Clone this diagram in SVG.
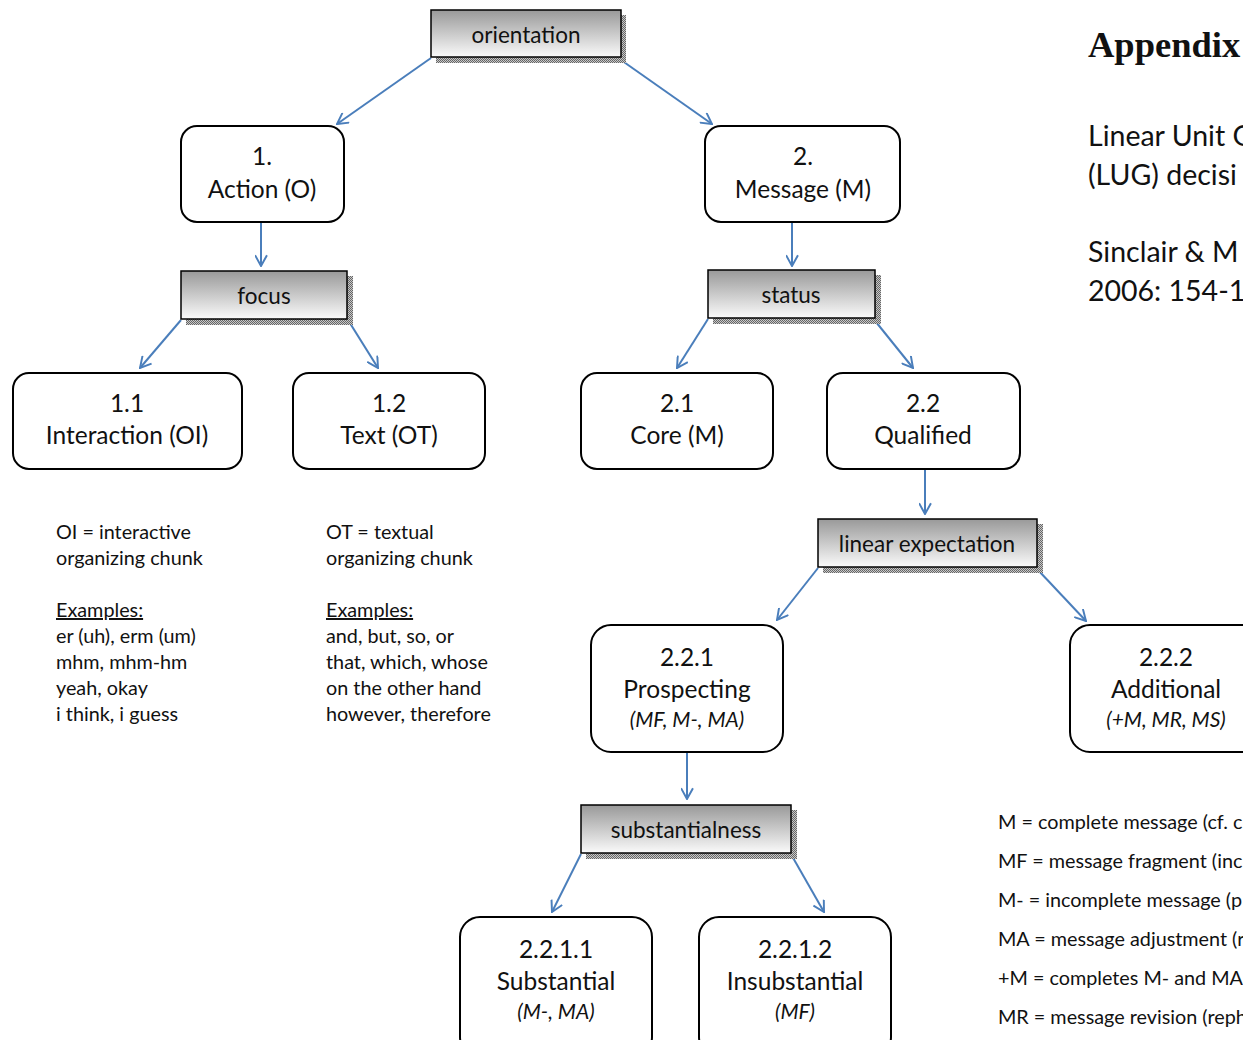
<svg xmlns="http://www.w3.org/2000/svg" width="1243" height="1040" viewBox="0 0 1243 1040">
  <style>
    .txt { font-family: Lato, "Open Sans", "Liberation Sans", sans-serif; fill: #111; }
    .lbl { font-size: 24.5px; text-anchor: middle; }
    .hlbl { font-size: 22.5px; text-anchor: middle; }
    .sub { font-size: 21px; font-style: italic; text-anchor: middle; }
    .note { font-size: 19.8px; }
    .leg { font-size: 19.8px; }
    .side { font-size: 28.5px; }
    .box { fill: #fff; stroke: #000; stroke-width: 2; }
    .hdr { fill: url(#hdrGrad); stroke: #000; stroke-width: 1.5; }
    .shadow { fill: url(#dither); }
    .conn { stroke: #4a7ebb; stroke-width: 2; fill: none; marker-end: url(#vhead); }
  </style>
  <defs>
    <linearGradient id="hdrGrad" x1="0" y1="0" x2="0" y2="1">
      <stop offset="0" stop-color="#999"/>
      <stop offset="1" stop-color="#fafafa"/>
    </linearGradient>
    <pattern id="dither" width="2" height="2" patternUnits="userSpaceOnUse">
      <rect width="2" height="2" fill="#c8c8c8"/>
      <rect width="1" height="1" fill="#666"/>
      <rect x="1" y="1" width="1" height="1" fill="#666"/>
    </pattern>
    <marker id="vhead" viewBox="0 0 12 12" refX="11" refY="6" markerWidth="13" markerHeight="13" markerUnits="userSpaceOnUse" orient="auto">
      <path d="M1,0.5 L11,6 L1,11.5" fill="none" stroke="#4a7ebb" stroke-width="1.8"/>
    </marker>
  </defs>

  <!-- connectors -->
  <g id="connectors">
    <line class="conn" x1="431" y1="58" x2="337" y2="124"/>
    <line class="conn" x1="621" y1="60" x2="712" y2="124"/>
    <line class="conn" x1="261" y1="222" x2="261" y2="266"/>
    <line class="conn" x1="792" y1="222" x2="792" y2="266"/>
    <line class="conn" x1="181" y1="320" x2="140" y2="368"/>
    <line class="conn" x1="348" y1="320" x2="378" y2="368"/>
    <line class="conn" x1="708" y1="319" x2="677" y2="368"/>
    <line class="conn" x1="876" y1="322" x2="913" y2="368"/>
    <line class="conn" x1="925" y1="469" x2="925" y2="514"/>
    <line class="conn" x1="818" y1="568" x2="777" y2="620"/>
    <line class="conn" x1="1038" y1="570" x2="1086" y2="621"/>
    <line class="conn" x1="687" y1="752" x2="687" y2="799"/>
    <line class="conn" x1="581" y1="854" x2="552" y2="912"/>
    <line class="conn" x1="792" y1="856" x2="824" y2="912"/>
  </g>

  <!-- header boxes -->
  <g id="orientation">
    <rect class="shadow" x="436" y="15" width="190" height="48"/>
    <rect class="hdr" x="431" y="10" width="190" height="47"/>
    <text class="txt hlbl" x="526" y="43">orientation</text>
  </g>
  <g id="focus">
    <rect class="shadow" x="186" y="276" width="167" height="49"/>
    <rect class="hdr" x="181" y="271" width="166" height="48"/>
    <text class="txt hlbl" x="264" y="304">focus</text>
  </g>
  <g id="status">
    <rect class="shadow" x="713" y="275" width="168" height="49"/>
    <rect class="hdr" x="708" y="270" width="167" height="48"/>
    <text class="txt hlbl" x="791" y="303">status</text>
  </g>
  <g id="linear-expectation">
    <rect class="shadow" x="823" y="524" width="220" height="49"/>
    <rect class="hdr" x="818" y="519" width="219" height="48"/>
    <text class="txt hlbl" x="927" y="552">linear expectation</text>
  </g>
  <g id="substantialness">
    <rect class="shadow" x="586" y="810" width="211" height="49"/>
    <rect class="hdr" x="581" y="805" width="210" height="48"/>
    <text class="txt hlbl" x="686" y="838">substantialness</text>
  </g>

  <!-- category boxes -->
  <g id="n1-action">
    <rect class="box" x="181" y="126" width="163" height="96" rx="16"/>
    <text class="txt lbl" x="262" y="165">1.</text>
    <text class="txt lbl" x="262" y="198">Action (O)</text>
  </g>
  <g id="n2-message">
    <rect class="box" x="705" y="126" width="195" height="96" rx="16"/>
    <text class="txt lbl" x="803" y="165">2.</text>
    <text class="txt lbl" x="803" y="198">Message (M)</text>
  </g>
  <g id="n11-interaction">
    <rect class="box" x="13" y="373" width="229" height="96" rx="16"/>
    <text class="txt lbl" x="127" y="412">1.1</text>
    <text class="txt lbl" x="127" y="444">Interaction (OI)</text>
  </g>
  <g id="n12-text">
    <rect class="box" x="293" y="373" width="192" height="96" rx="16"/>
    <text class="txt lbl" x="389" y="412">1.2</text>
    <text class="txt lbl" x="389" y="444">Text (OT)</text>
  </g>
  <g id="n21-core">
    <rect class="box" x="581" y="373" width="192" height="96" rx="16"/>
    <text class="txt lbl" x="677" y="412">2.1</text>
    <text class="txt lbl" x="677" y="444">Core (M)</text>
  </g>
  <g id="n22-qualified">
    <rect class="box" x="827" y="373" width="193" height="96" rx="16"/>
    <text class="txt lbl" x="923" y="412">2.2</text>
    <text class="txt lbl" x="923" y="444">Qualified</text>
  </g>
  <g id="n221-prospecting">
    <rect class="box" x="591" y="625" width="192" height="127" rx="20"/>
    <text class="txt lbl" x="687" y="666">2.2.1</text>
    <text class="txt lbl" x="687" y="698">Prospecting</text>
    <text class="txt sub" x="687" y="727">(MF, M-, MA)</text>
  </g>
  <g id="n222-additional">
    <rect class="box" x="1070" y="625" width="192" height="127" rx="20"/>
    <text class="txt lbl" x="1166" y="666">2.2.2</text>
    <text class="txt lbl" x="1166" y="698">Additional</text>
    <text class="txt sub" x="1166" y="727">(+M, MR, MS)</text>
  </g>
  <g id="n2211-substantial">
    <rect class="box" x="460" y="917" width="192" height="140" rx="20"/>
    <text class="txt lbl" x="556" y="958">2.2.1.1</text>
    <text class="txt lbl" x="556" y="990">Substantial</text>
    <text class="txt sub" x="556" y="1019">(M-, MA)</text>
  </g>
  <g id="n2212-insubstantial">
    <rect class="box" x="699" y="917" width="192" height="140" rx="20"/>
    <text class="txt lbl" x="795" y="958">2.2.1.2</text>
    <text class="txt lbl" x="795" y="990">Insubstantial</text>
    <text class="txt sub" x="795" y="1019">(MF)</text>
  </g>

  <!-- notes under the Action branch -->
  <g id="notes-oi" class="txt note">
    <text x="56" y="539">OI = interactive</text>
    <text x="56" y="565">organizing chunk</text>
    <text x="56" y="617" text-decoration="underline">Examples:</text>
    <text x="56" y="643">er (uh), erm (um)</text>
    <text x="56" y="669">mhm, mhm-hm</text>
    <text x="56" y="695">yeah, okay</text>
    <text x="56" y="721">i think, i guess</text>
  </g>
  <g id="notes-ot" class="txt note">
    <text x="326" y="539">OT = textual</text>
    <text x="326" y="565">organizing chunk</text>
    <text x="326" y="617" text-decoration="underline">Examples:</text>
    <text x="326" y="643">and, but, so, or</text>
    <text x="326" y="669">that, which, whose</text>
    <text x="326" y="695">on the other hand</text>
    <text x="326" y="721">however, therefore</text>
  </g>

  <!-- abbreviation legend -->
  <g id="legend" class="txt leg">
    <text x="998" y="829">M = complete message (cf. c</text>
    <text x="998" y="868">MF = message fragment (inc</text>
    <text x="998" y="907">M- = incomplete message (p</text>
    <text x="998" y="946">MA = message adjustment (r</text>
    <text x="998" y="985">+M = completes M- and MA</text>
    <text x="998" y="1024">MR = message revision (reph</text>
  </g>

  <!-- side heading -->
  <g id="heading">
    <text x="1088" y="57" style="font-family: 'Liberation Serif', 'Times New Roman', serif; font-weight: bold; font-size: 36.5px; fill: #111;">Appendix</text>
    <text class="txt side" x="1088" y="146">Linear Unit G</text>
    <text class="txt side" x="1088" y="185">(LUG) decisi</text>
    <text class="txt side" x="1088" y="262">Sinclair &amp; M</text>
    <text class="txt side" x="1088" y="301">2006: 154-1</text>
  </g>
</svg>
